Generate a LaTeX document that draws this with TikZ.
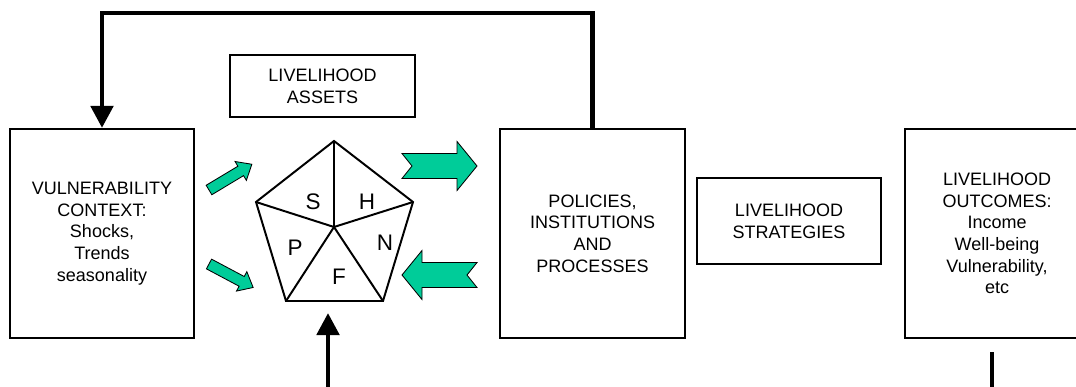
\documentclass[tikz,border=0pt]{standalone}
\usepackage{fontspec}
\setmainfont{Liberation Sans}
\usetikzlibrary{arrows.meta}
\definecolor{assetgreen}{RGB}{0,204,153}

\begin{document}
\begin{tikzpicture}[x = 0.025cm, y = -0.025cm,
    every node/.style = {font = \fontsize{12.8}{15.4}\selectfont, align = center},
    box/.style = {draw, line width = 1.5pt, inner sep = 0pt},
    tallbox/.style = {box, minimum width = 4.6cm, minimum height = 5.225cm},
    feedback/.style = {line width = 3.5pt, -{Triangle[length = 0.55cm, width = 0.55cm]}},
    letter/.style = {font = \fontsize{16}{16}\selectfont},
    greenfill/.style = {draw, fill = assetgreen, line width = 0.6pt, line join = miter},
    pics/smallarrow/.style = {code = {
        \draw[greenfill] (0,-5.5) -- (37,-5.5) -- (37,-11) -- (50,0)
            -- (37,11) -- (37,5.5) -- (0,5.5) -- cycle;}},
    pics/bigarrow/.style = {code = {
        \draw[greenfill] (0,-12.5) -- (55,-12.5) -- (55,-24.5) -- (75,0)
            -- (55,24.5) -- (55,12.5) -- (0,12.5) -- (10,0) -- cycle;}}]
    \path[use as bounding box, clip] (0,0) rectangle (1076,387);

    % boxes
    \node[tallbox] (vuln) at (102,233.5)
        {VULNERABILITY\\CONTEXT:\\Shocks,\\Trends\\seasonality};
    \node[box, minimum width = 4.625cm, minimum height = 1.55cm] (assets) at (322.5,86)
        {LIVELIHOOD\\ASSETS};
    \node[tallbox, minimum width = 4.625cm] (policies) at (592.5,233.5)
        {POLICIES,\\INSTITUTIONS\\AND\\PROCESSES};
    \node[box, minimum width = 4.6cm, minimum height = 2.15cm] (strategies) at (789,221)
        {LIVELIHOOD\\STRATEGIES};
    \node[tallbox] (outcomes) at (997,233.5)
        {LIVELIHOOD\\OUTCOMES:\\Income\\Well-being\\Vulnerability,\\etc};

    % asset pentagon
    \coordinate (ptop) at (334,141);
    \coordinate (pleft) at (256,202);
    \coordinate (pright) at (413,202);
    \coordinate (pbl) at (286,301);
    \coordinate (pbr) at (383,301);
    \coordinate (pmid) at (334,227);
    \draw[line width = 1.4pt, line join = miter]
        (ptop) -- (pright) -- (pbr) -- (pbl) -- (pleft) -- cycle;
    \foreach \c in {ptop, pright, pbr, pbl, pleft}
        \draw[line width = 1.4pt] (pmid) -- (\c);
    \node[letter] (social) at (313,202) {S};
    \node[letter] (human) at (367,202) {H};
    \node[letter] (physical) at (295,248) {P};
    \node[letter] (natural) at (385,243) {N};
    \node[letter] (financial) at (339,277) {F};

    % green arrows
    \path (209,190) pic[rotate = 31] {smallarrow};
    \path (209,264) pic[rotate = -28] {smallarrow};
    \path (402,166) pic {bigarrow};
    \path (477,275) pic[rotate = 180] {bigarrow};

    % feedback loop and loose ends
    \coordinate (looptop) at (0,13);
    \draw[feedback] (policies.north) -- (policies.north |- looptop)
        -- (vuln.north |- looptop) -- (vuln.north);
    \coordinate (capbase) at (328,395);
    \coordinate (captip) at (328,313);
    \draw[feedback] (capbase) -- (captip);
    \coordinate (outtop) at (992,352);
    \coordinate (outbase) at (992,395);
    \draw[line width = 3.5pt] (outtop) -- (outbase);
\end{tikzpicture}
\end{document}
